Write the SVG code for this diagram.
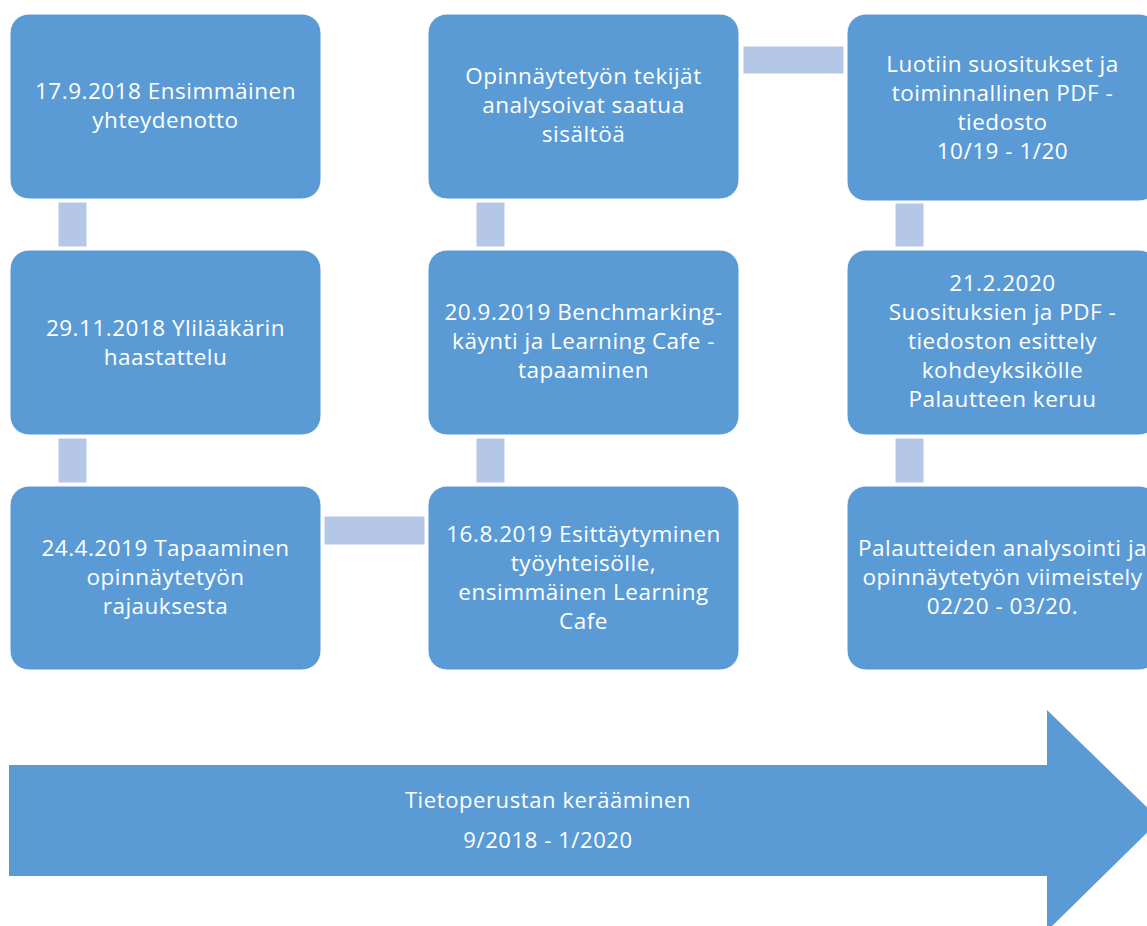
<svg xmlns="http://www.w3.org/2000/svg" width="1147" height="926" viewBox="0 0 1147 926">
<style>
.box{fill:#5B9BD5;stroke:#ffffff;stroke-width:1}
.con{fill:#B4C7E7;stroke:#ffffff;stroke-width:1}
.t{font-family:"Open Sans","Liberation Sans",sans-serif;font-size:22.5px;letter-spacing:0.5px;fill:#ffffff;text-anchor:middle}
.a{font-family:"Open Sans","Liberation Sans",sans-serif;font-size:22px;letter-spacing:0.6px;fill:#ffffff;text-anchor:middle}
</style>
<rect width="1147" height="926" fill="#ffffff"/>
<g id="connectors">
<rect class="con" x="58" y="202" width="29" height="45"/>
<rect class="con" x="58" y="438" width="29" height="45"/>
<rect class="con" x="324" y="516" width="101" height="29"/>
<rect class="con" x="476" y="438" width="29" height="45"/>
<rect class="con" x="476" y="202" width="29" height="45"/>
<rect class="con" x="743" y="46" width="101" height="28"/>
<rect class="con" x="895" y="203" width="29" height="44"/>
<rect class="con" x="895" y="438" width="29" height="45"/>
</g>
<g id="n1"><rect class="box" x="10" y="14" width="311" height="185" rx="19"/>
<text class="t" x="165.5" y="99">17.9.2018 Ensimmäinen</text><text class="t" x="165.5" y="128">yhteydenotto</text></g>
<g id="n2"><rect class="box" x="10" y="250" width="311" height="185" rx="19"/>
<text class="t" x="165.5" y="336">29.11.2018 Ylilääkärin</text><text class="t" x="165.5" y="365">haastattelu</text></g>
<g id="n3"><rect class="box" x="10" y="486" width="311" height="184" rx="19"/>
<text class="t" x="165.5" y="556">24.4.2019 Tapaaminen</text><text class="t" x="165.5" y="585">opinnäytetyön</text><text class="t" x="165.5" y="614">rajauksesta</text></g>
<g id="n4"><rect class="box" x="428" y="486" width="311" height="184" rx="19"/>
<text class="t" x="583.5" y="542">16.8.2019 Esittäytyminen</text><text class="t" x="583.5" y="571">työyhteisölle,</text><text class="t" x="583.5" y="600">ensimmäinen Learning</text><text class="t" x="583.5" y="629">Cafe</text></g>
<g id="n5"><rect class="box" x="428" y="250" width="311" height="185" rx="19"/>
<text class="t" x="583.5" y="320">20.9.2019 Benchmarking-</text><text class="t" x="583.5" y="349">käynti ja Learning Cafe -</text><text class="t" x="583.5" y="378">tapaaminen</text></g>
<g id="n6"><rect class="box" x="428" y="14" width="311" height="185" rx="19"/>
<text class="t" x="583.5" y="84">Opinnäytetyön tekijät</text><text class="t" x="583.5" y="113">analysoivat saatua</text><text class="t" x="583.5" y="142">sisältöä</text></g>
<g id="n7"><rect class="box" x="847" y="14" width="311" height="187" rx="19"/>
<text class="t" x="1002.5" y="72">Luotiin suositukset ja</text><text class="t" x="1002.5" y="101">toiminnallinen PDF -</text><text class="t" x="1002.5" y="130">tiedosto</text><text class="t" x="1002.5" y="159">10/19 - 1/20</text></g>
<g id="n8"><rect class="box" x="847" y="250" width="311" height="185" rx="19"/>
<text class="t" x="1002.5" y="291">21.2.2020</text><text class="t" x="1002.5" y="320">Suosituksien ja PDF -</text><text class="t" x="1002.5" y="349">tiedoston esittely</text><text class="t" x="1002.5" y="378">kohdeyksikölle</text><text class="t" x="1002.5" y="407">Palautteen keruu</text></g>
<g id="n9"><rect class="box" x="847" y="486" width="311" height="184" rx="19"/>
<text class="t" x="1002.5" y="556">Palautteiden analysointi ja</text><text class="t" x="1002.5" y="585">opinnäytetyön viimeistely</text><text class="t" x="1002.5" y="614">02/20 - 03/20.</text></g>
<g id="arrow"><polygon fill="#5B9BD5" points="9,765 1047,765 1047,710 1160,820 1047,931 1047,876 9,876"/>
<text class="a" x="548" y="808">Tietoperustan kerääminen</text><text class="a" x="548" y="848">9/2018 - 1/2020</text></g>
</svg>
